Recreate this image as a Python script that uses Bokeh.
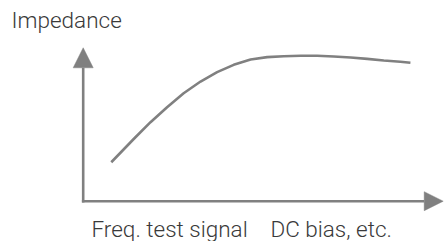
from bokeh.plotting import figure
from bokeh.models import Range1d, Arrow, NormalHead, Label
from bokeh.embed import file_html
from bokeh.resources import INLINE

# Curve: impedance vs. frequency / test signal / DC bias (arbitrary units)
curve_x = [7.8, 14.1, 18.7, 23.3, 27.9, 32.6, 37.2, 41.8, 46.5, 51.1, 55.7, 60.4,
           65.0, 69.6, 74.3, 78.9, 83.5, 88.1, 90.9]
curve_y = [25.4, 40.7, 51.5, 61.3, 70.4, 78.0, 84.1, 88.9, 92.4, 93.9, 94.5, 94.8,
           94.8, 94.3, 93.7, 92.8, 91.7, 90.9, 90.2]

y_label = "Impedance"
x_labels = ["Freq. test signal", "DC bias, etc."]
x_label_pos = [2.3, 52.0]

GRAY = "#808080"
TEXT = "#3a3a3a"
FONT = "Roboto Light, Roboto"

W, H = 444, 241
p = figure(width=W, height=H, output_backend="svg", toolbar_location=None,
           x_range=Range1d(-22.97, 100.36), y_range=Range1d(-26.27, 130.83),
           min_border=0, min_border_left=0, min_border_right=0,
           min_border_top=0, min_border_bottom=0)
p.xaxis.visible = False
p.yaxis.visible = False
p.grid.visible = False
p.outline_line_color = None
p.background_fill_color = "white"
p.border_fill_color = "white"

# axes as arrows
p.add_layout(Arrow(x_start=0, y_start=0, x_end=0, y_end=100,
                   line_color=GRAY, line_width=2.6, line_cap="square",
                   end=NormalHead(size=20, fill_color=GRAY, line_color=GRAY, line_width=0.5)))
p.add_layout(Arrow(x_start=0, y_start=0, x_end=100, y_end=0,
                   line_color=GRAY, line_width=2.6, line_cap="square",
                   end=NormalHead(size=19, fill_color=GRAY, line_color=GRAY, line_width=0.5)))

p.line(curve_x, curve_y, line_color=GRAY, line_width=2.6, line_join="round", line_cap="butt")

p.add_layout(Label(x=-19.9, y=118.4, text=y_label, text_font=FONT, text_font_size="22.5px",
                   text_color=TEXT, text_baseline="alphabetic"))
for lx, lt in zip(x_label_pos, x_labels):
    p.add_layout(Label(x=lx, y=-17.8, text=lt, text_font=FONT, text_font_size="22.5px",
                       text_color=TEXT, text_baseline="alphabetic"))

open("out.html", "w").write(file_html(p, INLINE))
